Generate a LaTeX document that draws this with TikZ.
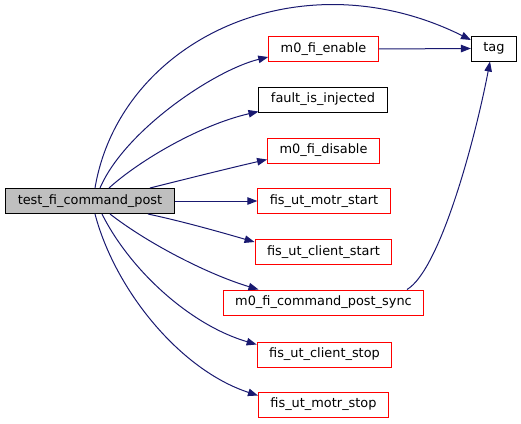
\documentclass[tikz,border=0pt]{standalone}
\usepackage{fontspec}
\setmainfont{DejaVu Sans}
\usetikzlibrary{arrows.meta}

\definecolor{edgeblue}{HTML}{191970}
\tikzset{
  fn/.style={draw=black, fill=white, line width=1pt, inner xsep=12pt,
    minimum height=25pt, font=\fontsize{12.9}{15}\selectfont},
  fnred/.style={fn, draw=red},
  call/.style={draw=edgeblue, line width=1pt,
    -{Triangle[length=10pt,width=7.5pt]}, shorten >=0pt},
}

\begin{document}
\begin{tikzpicture}[x=1pt,y=-1pt]
    \useasboundingbox (0,0) rectangle (521,423);
    \node[fn, fill=black!25] (main) at (90,201) {test\_fi\_command\_post};
    \node[fn] (tag) at (494,48.5) {tag};
    \node[fnred] (enable) at (323.5,49) {m0\_fi\_enable};
    \node[fn] (fault) at (323,99.5) {fault\_is\_injected};
    \node[fnred] (disable) at (323.5,150.5) {m0\_fi\_disable};
    \node[fnred] (mstart) at (324,201) {fis\_ut\_motr\_start};
    \node[fnred] (cstart) at (323.5,252) {fis\_ut\_client\_start};
    \node[fnred] (sync) at (323.5,302.5) {m0\_fi\_command\_post\_sync};
    \node[fnred] (cstop) at (324.5,354.5) {fis\_ut\_client\_stop};
    \node[fnred] (mstop) at (323.5,404.5) {fis\_ut\_motr\_stop};

    % calls out of test_fi_command_post
    \draw[call] ([xshift=5pt]main.north) .. controls (120,40) and (300,-45) .. ([yshift=8.5pt]tag.west);
    \draw[call] ([xshift=10pt]main.north) .. controls (125,130) and (215,70) .. ([yshift=-8pt]enable.west);
    \draw[call] ([xshift=19pt]main.north) .. controls (140,160) and (200,125) .. ([yshift=-12pt]fault.west);
    \draw[call] ([xshift=60pt]main.north) .. controls (190,178) and (230,168) .. ([yshift=-9pt]disable.west);
    \draw[call] (main.east) -- (mstart.west);
    \draw[call] ([xshift=58pt]main.south) .. controls (185,222) and (220,232) .. ([yshift=10pt]cstart.west);
    \draw[call] ([xshift=20pt]main.south) .. controls (150,245) and (210,275) .. ([xshift=-65pt]sync.north);
    \draw[call] ([xshift=12pt]main.south) .. controls (130,270) and (190,325) .. ([yshift=10pt]cstop.west);
    \draw[call] ([xshift=5pt]main.south) .. controls (115,290) and (180,370) .. ([yshift=9pt]mstop.west);

    % calls into tag
    \draw[call] (enable.east) -- (tag.west);
    \draw[call] ([xshift=83.5pt]sync.north) .. controls (440,270) and (475,140) .. ([xshift=-4pt]tag.south);
\end{tikzpicture}
\end{document}
